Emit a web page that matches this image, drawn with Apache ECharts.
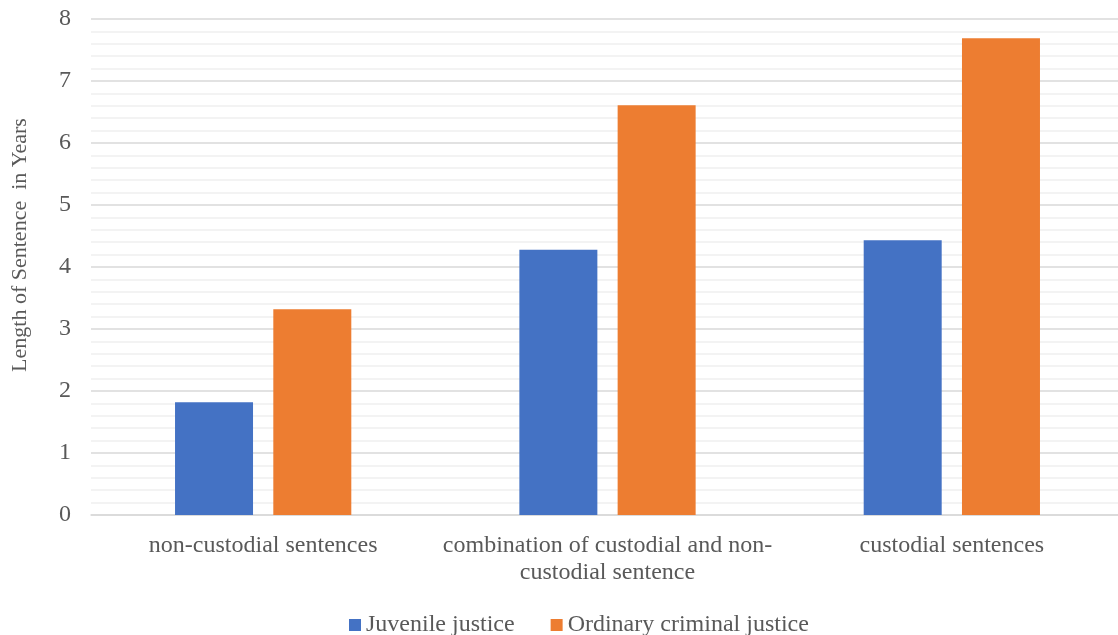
<!DOCTYPE html>
<html>
<head>
<meta charset="utf-8">
<script src="https://cdn.jsdelivr.net/npm/echarts@6/dist/echarts.min.js"></script>
<style>
  html, body { margin: 0; padding: 0; background: #fff; }
  #chart { width: 1118px; height: 635px; }
</style>
</head>
<body>
<div id="chart"></div>
<script>
// Sentence length by type of sanction, juvenile vs. ordinary criminal justice
const categories = [
  'non-custodial sentences',
  'combination of custodial and non-\ncustodial sentence',
  'custodial sentences'
];
const seriesNames = ['Juvenile justice', 'Ordinary criminal justice'];
const juvenile = [1.82, 4.28, 4.43];
const ordinary = [3.32, 6.61, 7.69];
const yTicks = { min: 0, max: 8, interval: 1 };

const font = '"Liberation Serif", "Times New Roman", serif';
const textColor = '#595959';

const chart = echarts.init(document.getElementById('chart'), null, { renderer: 'canvas' });
chart.setOption({
  animation: false,
  backgroundColor: '#ffffff',
  textStyle: { fontFamily: font, color: textColor },
  grid: { left: 91, right: -6, top: 19, bottom: 120, containLabel: false, outerBoundsMode: 'none' },
  legend: {
    top: 608,
    left: 344,
    itemWidth: 12,
    itemHeight: 12,
    itemGap: 36,
    itemTextGap: 5,
    icon: 'rect',
    textStyle: { fontFamily: font, fontSize: 24, color: textColor },
    data: seriesNames
  },
  xAxis: {
    type: 'category',
    data: categories,
    axisLine: { show: true, lineStyle: { color: '#d9d9d9', width: 1.5 } },
    axisTick: { show: false },
    axisLabel: {
      fontFamily: font, fontSize: 24, color: textColor,
      margin: 17, lineHeight: 27, interval: 0
    }
  },
  yAxis: {
    type: 'value',
    min: yTicks.min,
    max: yTicks.max,
    interval: yTicks.interval,
    name: 'Length of Sentence  in Years',
    nameLocation: 'middle',
    nameGap: 60,
    nameTextStyle: { fontFamily: font, fontSize: 22, color: textColor, padding: [0, 0, 0, 44] },
    axisLine: { show: false },
    axisTick: { show: false },
    axisLabel: { fontFamily: font, fontSize: 24, color: textColor, margin: 20 },
    splitLine: { show: true, lineStyle: { color: '#d9d9d9', width: 1.5 } },
    minorTick: { show: false, splitNumber: 5 },
    minorSplitLine: { show: true, lineStyle: { color: '#f0f0f0', width: 1.5 } }
  },
  series: [
    {
      name: seriesNames[0],
      type: 'bar',
      data: juvenile,
      barWidth: 78,
      barGap: '26%',
      itemStyle: { color: '#4472C4' }
    },
    {
      name: seriesNames[1],
      type: 'bar',
      data: ordinary,
      barWidth: 78,
      barGap: '26%',
      itemStyle: { color: '#ED7D31' }
    }
  ]
});
</script>
</body>
</html>
